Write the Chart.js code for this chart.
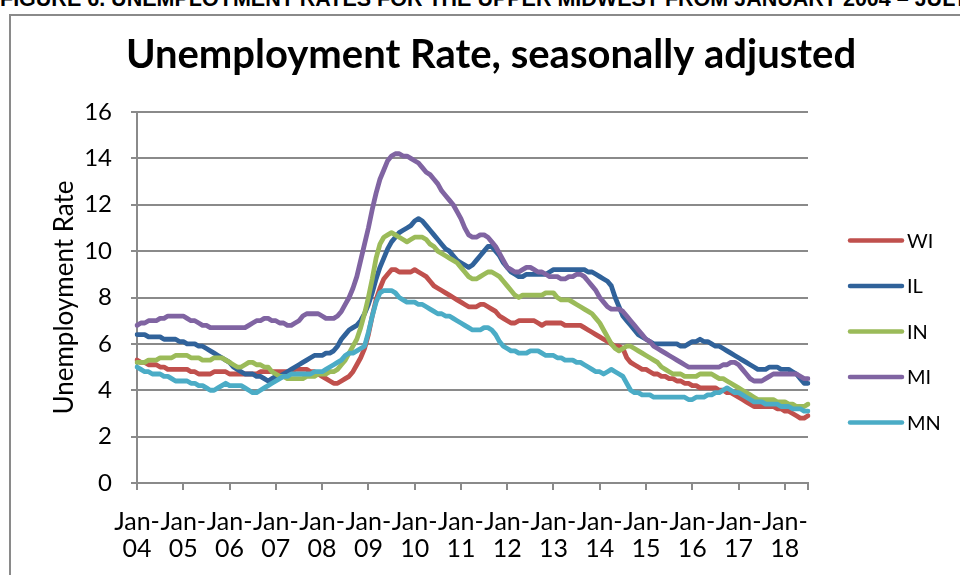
<!DOCTYPE html>
<html>
<head>
<meta charset="utf-8">
<script src="https://cdn.jsdelivr.net/npm/chart.js@4.4.1/dist/chart.umd.min.js"></script>
<style>
  html, body { margin: 0; padding: 0; background: #fff; overflow: hidden; }
  #page { position: relative; width: 960px; height: 575px; overflow: hidden; }
  #caption {
    position: absolute; left: 0; top: -11px; white-space: nowrap;
    font: bold 21.5px "Liberation Sans", Arial, sans-serif; line-height: 21px; color: #000;
  }
  #frame {
    position: absolute; left: 9px; top: 14px; width: 1000px; height: 600px;
    border-left: 2px solid #8a8a8a; border-top: 2px solid #8a8a8a;
  }
  #chart { position: absolute; left: 0; top: 0; }
</style>
</head>
<body>
<div id="page">
  <div id="caption">FIGURE 6. UNEMPLOYMENT RATES FOR THE UPPER MIDWEST FROM JANUARY 2004 – JULY 2018</div>
  <div id="frame"></div>
  <canvas id="chart" width="960" height="575"></canvas>
</div>
<script>
// Axis: monthly, Jan 2004 .. Jul 2018
const years = ['04', '05', '06', '07', '08', '09', '10', '11', '12', '13', '14', '15', '16', '17', '18'];
const nMonths = 175;

const chartTitle   = 'Unemployment Rate, seasonally adjusted';
const seriesNames  = ['WI', 'IL', 'IN', 'MI', 'MN'];
const seriesColors = ['#C0504D', '#30629A', '#9BBB59', '#8064A2', '#4BACC6'];

// Unemployment rate (%), seasonally adjusted, one row per year
const wi = [
  5.3,5.2,5.2,5.1,5.1,5.1,5.0,5.0,4.9,4.9,4.9,4.9,
  4.9,4.9,4.8,4.8,4.7,4.7,4.7,4.7,4.8,4.8,4.8,4.8,
  4.7,4.7,4.7,4.7,4.7,4.7,4.7,4.7,4.8,4.8,4.8,4.8,
  4.8,4.8,4.8,4.8,4.8,4.9,4.9,4.9,4.9,4.8,4.8,4.7,
  4.6,4.5,4.4,4.3,4.3,4.4,4.5,4.6,4.8,5.1,5.4,5.8,
  6.4,7.2,7.9,8.4,8.8,9.0,9.2,9.2,9.1,9.1,9.1,9.1,
  9.2,9.1,9.0,8.9,8.7,8.5,8.4,8.3,8.2,8.1,8.0,7.9,
  7.8,7.7,7.6,7.6,7.6,7.7,7.7,7.6,7.5,7.4,7.2,7.1,
  7.0,6.9,6.9,7.0,7.0,7.0,7.0,7.0,6.9,6.8,6.9,6.9,
  6.9,6.9,6.9,6.8,6.8,6.8,6.8,6.8,6.7,6.6,6.5,6.4,
  6.3,6.2,6.1,6.0,5.9,5.9,5.8,5.4,5.2,5.1,5.0,4.9,
  4.9,4.8,4.7,4.7,4.6,4.6,4.5,4.5,4.4,4.4,4.3,4.3,
  4.2,4.2,4.1,4.1,4.1,4.1,4.1,4.0,4.0,3.9,3.9,3.8,
  3.7,3.6,3.5,3.4,3.3,3.3,3.3,3.3,3.3,3.3,3.2,3.2,
  3.1,3.1,3.0,2.9,2.8,2.8,2.9
];
const il = [
  6.4,6.4,6.4,6.3,6.3,6.3,6.3,6.2,6.2,6.2,6.2,6.1,
  6.1,6.0,6.0,6.0,5.9,5.9,5.8,5.7,5.6,5.5,5.4,5.3,
  5.2,5.0,4.9,4.8,4.7,4.7,4.7,4.6,4.6,4.5,4.4,4.5,
  4.6,4.6,4.7,4.8,4.9,5.0,5.1,5.2,5.3,5.4,5.5,5.5,
  5.5,5.6,5.6,5.7,5.9,6.2,6.4,6.6,6.7,6.8,7.0,7.3,
  7.7,8.2,8.8,9.3,9.7,10.1,10.4,10.6,10.8,10.9,11.0,11.1,
  11.3,11.4,11.3,11.1,10.9,10.7,10.5,10.3,10.1,10.0,9.8,9.6,
  9.5,9.4,9.3,9.4,9.6,9.8,10.0,10.2,10.2,10.0,9.8,9.5,
  9.3,9.1,9.0,8.9,8.9,9.0,9.0,9.0,9.0,9.0,9.0,9.1,
  9.2,9.2,9.2,9.2,9.2,9.2,9.2,9.2,9.2,9.1,9.1,9.0,
  8.9,8.8,8.7,8.5,8.0,7.6,7.2,7.0,6.8,6.6,6.4,6.3,
  6.2,6.1,6.0,6.0,6.0,6.0,6.0,6.0,6.0,5.9,5.9,6.0,
  6.1,6.1,6.2,6.1,6.1,6.0,5.9,5.9,5.8,5.7,5.6,5.5,
  5.4,5.3,5.2,5.1,5.0,4.9,4.9,4.9,5.0,5.0,5.0,4.9,
  4.9,4.9,4.8,4.7,4.5,4.3,4.3
];
const inn = [
  5.2,5.2,5.2,5.3,5.3,5.3,5.4,5.4,5.4,5.4,5.5,5.5,
  5.5,5.5,5.4,5.4,5.4,5.3,5.3,5.3,5.4,5.4,5.4,5.3,
  5.2,5.1,5.0,5.0,5.1,5.2,5.2,5.1,5.1,5.0,5.0,4.8,
  4.7,4.6,4.6,4.5,4.5,4.5,4.5,4.5,4.6,4.6,4.6,4.7,
  4.7,4.7,4.8,4.8,4.9,5.1,5.3,5.6,5.9,6.2,6.7,7.3,
  8.0,8.8,9.7,10.3,10.6,10.7,10.8,10.7,10.6,10.5,10.4,10.5,
  10.6,10.6,10.6,10.5,10.3,10.2,10.0,9.9,9.8,9.7,9.6,9.5,
  9.3,9.1,8.9,8.8,8.8,8.9,9.0,9.1,9.1,9.0,8.9,8.7,
  8.5,8.3,8.1,8.0,8.1,8.1,8.1,8.1,8.1,8.1,8.2,8.2,
  8.2,8.0,7.9,7.9,7.9,7.8,7.7,7.6,7.5,7.4,7.3,7.1,
  6.9,6.6,6.3,6.0,5.8,5.7,5.8,5.9,5.9,5.8,5.7,5.6,
  5.5,5.4,5.3,5.2,5.0,4.9,4.8,4.7,4.7,4.7,4.6,4.6,
  4.6,4.6,4.7,4.7,4.7,4.7,4.6,4.5,4.5,4.4,4.3,4.2,
  4.1,4.0,3.9,3.8,3.7,3.6,3.6,3.6,3.6,3.6,3.5,3.5,
  3.5,3.4,3.4,3.3,3.3,3.3,3.4
];
const mi = [
  6.8,6.9,6.9,7.0,7.0,7.0,7.1,7.1,7.2,7.2,7.2,7.2,
  7.2,7.1,7.0,7.0,6.9,6.8,6.8,6.7,6.7,6.7,6.7,6.7,
  6.7,6.7,6.7,6.7,6.7,6.8,6.9,7.0,7.0,7.1,7.1,7.0,
  7.0,6.9,6.9,6.8,6.8,6.9,7.0,7.2,7.3,7.3,7.3,7.3,
  7.2,7.1,7.1,7.1,7.2,7.4,7.7,8.0,8.4,8.9,9.6,10.3,
  11.0,11.8,12.5,13.1,13.5,13.9,14.1,14.2,14.2,14.1,14.1,14.0,
  13.9,13.8,13.6,13.4,13.3,13.1,12.9,12.6,12.4,12.2,12.0,11.7,
  11.4,11.0,10.7,10.6,10.6,10.7,10.7,10.6,10.4,10.2,9.9,9.6,
  9.3,9.2,9.1,9.1,9.2,9.3,9.3,9.2,9.1,9.1,9.0,8.9,
  8.9,8.9,8.8,8.8,8.9,8.9,9.0,9.0,8.9,8.7,8.5,8.3,
  8.0,7.8,7.6,7.5,7.5,7.5,7.4,7.2,7.0,6.8,6.6,6.4,
  6.2,6.1,5.9,5.8,5.7,5.6,5.5,5.4,5.3,5.2,5.1,5.0,
  5.0,5.0,5.0,5.0,5.0,5.0,5.0,5.0,5.1,5.1,5.2,5.2,
  5.1,4.9,4.7,4.5,4.4,4.4,4.4,4.5,4.6,4.7,4.7,4.7,
  4.7,4.7,4.7,4.7,4.6,4.5,4.5
];
const mn = [
  5.0,4.9,4.8,4.8,4.7,4.7,4.7,4.6,4.6,4.5,4.4,4.4,
  4.4,4.4,4.3,4.3,4.2,4.2,4.1,4.0,4.0,4.1,4.2,4.3,
  4.2,4.2,4.2,4.2,4.1,4.0,3.9,3.9,4.0,4.1,4.2,4.3,
  4.4,4.5,4.6,4.6,4.7,4.7,4.7,4.7,4.7,4.7,4.8,4.8,
  4.8,4.9,5.0,5.1,5.2,5.3,5.5,5.6,5.6,5.7,5.8,5.9,
  6.5,7.2,7.8,8.2,8.3,8.3,8.3,8.2,8.0,7.9,7.8,7.8,
  7.8,7.7,7.7,7.6,7.5,7.4,7.3,7.3,7.2,7.2,7.1,7.0,
  6.9,6.8,6.7,6.6,6.6,6.6,6.7,6.7,6.6,6.4,6.1,5.9,
  5.8,5.7,5.7,5.6,5.6,5.6,5.7,5.7,5.7,5.6,5.5,5.5,
  5.5,5.4,5.4,5.3,5.3,5.3,5.2,5.2,5.1,5.0,4.9,4.8,
  4.8,4.7,4.8,4.9,4.8,4.7,4.6,4.3,4.0,3.9,3.9,3.8,
  3.8,3.8,3.7,3.7,3.7,3.7,3.7,3.7,3.7,3.7,3.7,3.6,
  3.6,3.7,3.7,3.7,3.8,3.8,3.9,3.9,4.0,4.1,4.0,3.9,
  3.9,3.8,3.7,3.6,3.5,3.5,3.5,3.4,3.4,3.4,3.4,3.3,
  3.3,3.3,3.2,3.2,3.2,3.1,3.1
];

const seriesData = [wi, il, inn, mi, mn];

// "Jan-" / "yy" under each January, nothing for the other months
const labels = [];
for (let m = 0; m < nMonths; m++) {
  labels.push(m % 12 === 0 ? ['Jan-', years[m / 12]] : '');
}

const GRID = '#8a8a8a';
const FONT = 'Lato';

// Title (centred over the whole frame, not just the plot) + legend on the right
const decorations = {
  id: 'decorations',
  afterDraw(chart) {
    const ctx = chart.ctx;
    ctx.save();
    ctx.fillStyle = '#000';
    ctx.font = 'bold 40px ' + FONT;
    ctx.textAlign = 'center';
    ctx.textBaseline = 'alphabetic';
    ctx.fillText(chartTitle, 491, 68);

    chart.data.datasets.forEach((ds, i) => {
      const y = 240.5 + i * 45.5;
      ctx.strokeStyle = ds.borderColor;
      ctx.lineWidth = 4.5;
      ctx.lineCap = 'round';
      ctx.beginPath();
      ctx.moveTo(850, y);
      ctx.lineTo(902, y);
      ctx.stroke();
      ctx.fillStyle = '#000';
      ctx.font = '20px ' + FONT;
      ctx.textBaseline = 'middle';
      ctx.textAlign = 'left';
      ctx.fillText(ds.label, 907, y + 1);
    });
    ctx.restore();
  },
};

new Chart(document.getElementById('chart'), {
  type: 'line',
  data: {
    labels,
    datasets: seriesNames.map((name, i) => ({
      label: name,
      data: seriesData[i],
      borderColor: seriesColors[i],
      backgroundColor: seriesColors[i],
      borderWidth: 4.8,
      borderJoinStyle: 'round',
      borderCapStyle: 'round',
      pointRadius: 0,
      tension: 0,
      order: seriesNames.length - i,   // MN on top, like Excel
    })),
  },
  options: {
    responsive: false,
    animation: false,
    layout: { padding: { left: 0, right: 152, top: 112, bottom: 0 } },
    plugins: {
      legend: { display: false },
      tooltip: { enabled: false },
      title: { display: false },
    },
    scales: {
      x: {
        type: 'category',
        offset: false,
        grid: {
          drawOnChartArea: false,
          drawTicks: true,
          tickLength: 7,
          lineWidth: 2,
          color: c => (c.index % 12 === 0 || c.index === nMonths - 1) ? GRID : 'rgba(0,0,0,0)',
        },
        border: { display: true, color: GRID, width: 2 },
        ticks: {
          autoSkip: false,
          maxRotation: 0,
          minRotation: 0,
          padding: 18.5,
          color: '#000',
          font: { family: FONT, size: 25, lineHeight: 1.08 },
        },
        afterFit(scale) { scale.height = 92; },
      },
      y: {
        min: 0,
        max: 16,
        grid: { color: GRID, lineWidth: 2, tickLength: 6 },
        border: { display: true, color: GRID, width: 2 },
        ticks: {
          stepSize: 2,
          padding: 19,
          color: '#000',
          font: { family: FONT, size: 24 },
        },
        title: {
          display: true,
          text: 'Unemployment Rate',
          color: '#000',
          font: { family: FONT, size: 26 },
          padding: { top: 49, bottom: 0 },
        },
        afterFit(scale) { scale.width = 137; },
      },
    },
  },
  plugins: [decorations],
});
</script>
</body>
</html>
